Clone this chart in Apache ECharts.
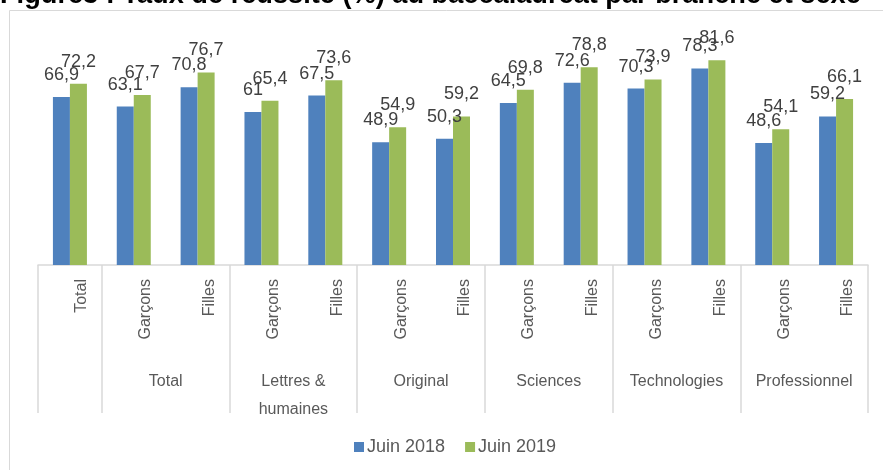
<!DOCTYPE html>
<html>
<head>
<meta charset="utf-8">
<script src="https://cdn.jsdelivr.net/npm/echarts@6/dist/echarts.min.js"></script>
<style>html,body{margin:0;padding:0;background:#fff}#c{width:883px;height:470px}</style>
</head>
<body>
<div id="c"></div>
<script>
const titleText = 'Figure3 : Taux de réussite (%) au baccalauréat par branche et sexe';
const subLabels = ['Total','Garçons','Filles','Garçons','Filles','Garçons','Filles','Garçons','Filles','Garçons','Filles','Garçons','Filles'];
const groupOf = ['Total0','Total','Total','Lettres','Lettres','Original','Original','Sciences','Sciences','Technologies','Technologies','Professionnel','Professionnel'];
const groupLabels = ['Total','Lettres &\nhumaines','Original','Sciences','Technologies','Professionnel'];
const seriesNames = ['Juin 2018','Juin 2019'];
const juin2018 = [66.9,63.1,70.8,61,67.5,48.9,50.3,64.5,72.6,70.3,78.3,48.6,59.2];
const juin2019 = [72.2,67.7,76.7,65.4,73.6,54.9,59.2,69.8,78.8,73.9,81.6,54.1,66.1];

const FONT = '"Liberation Sans", Arial, sans-serif';
const categories = subLabels.map((s, i) => groupOf[i] + '|' + s);
const boundaryIdx = [0, 1, 3, 5, 7, 9, 11];

const chart = echarts.init(document.getElementById('c'));
const fmt = p => String(p.value).replace('.', ',');
const mkSeries = (name, data, color) => ({
  name: name, type: 'bar', data: data, xAxisIndex: 0, yAxisIndex: 0,
  barWidth: 17, barGap: '0%',
  itemStyle: { color: color },
  label: { show: true, position: 'top', distance: 13, formatter: fmt,
    fontSize: 18, color: '#404040', fontFamily: FONT }
});

chart.setOption({
  animation: false,
  textStyle: { fontFamily: FONT },
  title: { text: titleText, left: 0, top: -18, padding: 0,
    textStyle: { fontSize: 27.2, fontWeight: 'bold', color: '#000', fontFamily: FONT } },
  graphic: [{ type: 'rect', z: -10, silent: true,
    shape: { x: 9.5, y: 10.5, width: 900, height: 500 },
    style: { fill: 'none', stroke: '#d9d9d9', lineWidth: 1 } }],
  legend: { data: seriesNames, left: 354, top: 438, padding: 0, icon: 'rect', itemWidth: 10, itemHeight: 10, itemGap: 20,
    textStyle: { fontSize: 18, color: '#595959', fontFamily: FONT, padding: [0, 0, 0, -2] } },
  grid: { left: 38, right: 15, top: 14, bottom: 205, outerBoundsMode: 'none' },
  xAxis: [{
    type: 'category', data: categories, position: 'bottom',
    axisLine: { show: true, lineStyle: { color: '#d9d9d9', width: 1.5 } },
    axisTick: { show: true, length: 148, interval: (i) => boundaryIdx.indexOf(i) >= 0,
      lineStyle: { color: '#d9d9d9', width: 1.5 } },
    axisLabel: { interval: 0, rotate: 90, margin: 14, fontSize: 16, color: '#595959', fontFamily: FONT,
      verticalAlign: 'top', padding: [4, 0, 0, 0],
      formatter: v => v.split('|')[1] }
  }, {
    type: 'value', min: 0, max: 13, interval: 1, position: 'bottom',
    axisLine: { show: false }, axisTick: { show: false }, splitLine: { show: false },
    axisLabel: { margin: 103, fontSize: 16, lineHeight: 28, color: '#595959', fontFamily: FONT,
      showMinLabel: true, showMaxLabel: true,
      formatter: v => (v >= 2 && v % 2 === 0 && v <= 12) ? groupLabels[v / 2 - 1] : '' }
  }],
  yAxis: { type: 'value', min: 0, max: 100, show: false, splitLine: { show: false } },
  series: [mkSeries(seriesNames[0], juin2018, '#4F81BD'), mkSeries(seriesNames[1], juin2019, '#9BBB59')]
});
</script>
</body>
</html>
